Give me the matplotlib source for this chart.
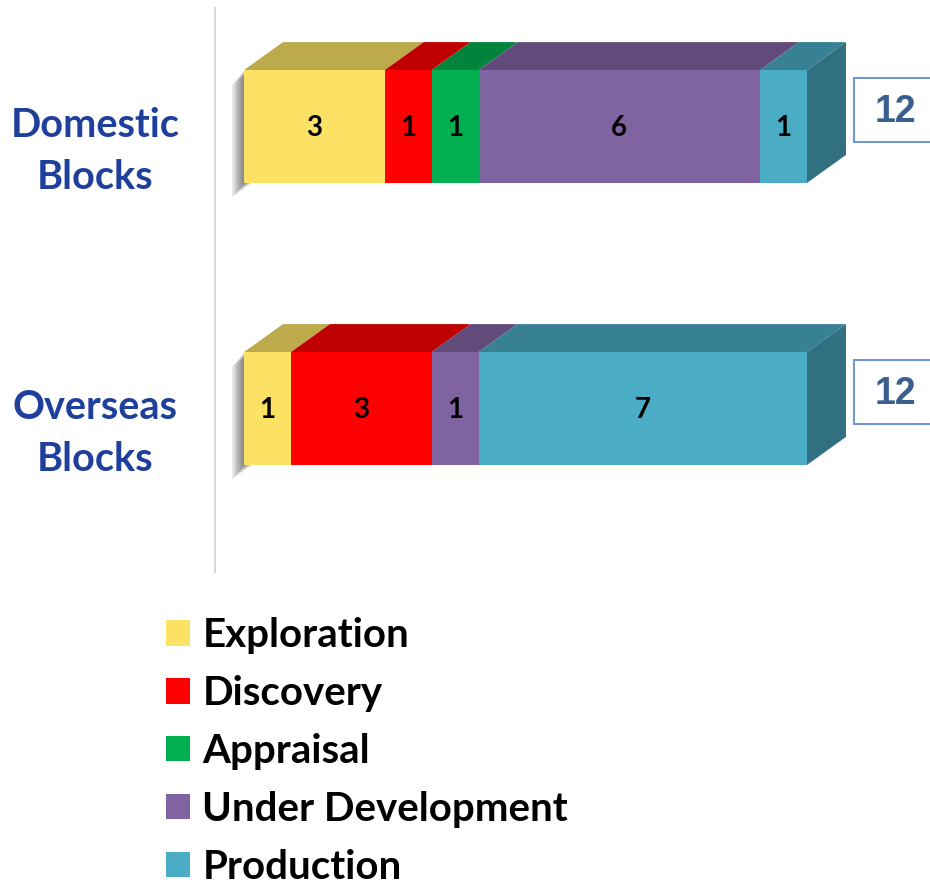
import matplotlib.pyplot as plt
from matplotlib.patches import Polygon, Rectangle, Patch
from matplotlib.lines import Line2D
from matplotlib.transforms import blended_transform_factory
import numpy as np

# data
categories = ['Domestic\nBlocks', 'Overseas\nBlocks']
series = ['Exploration', 'Discovery', 'Appraisal', 'Under Development', 'Production']
exploration = [3, 1]
discovery = [1, 3]
appraisal = [1, 0]
under_dev = [6, 1]
production = [1, 7]
values = [exploration, discovery, appraisal, under_dev, production]
colors = ['#FCE264', '#FF0000', '#00B050', '#8064A2', '#4BACC6']

W, H = 930, 885
fig = plt.figure(figsize=(W / 100, H / 100), dpi=100)

def fx(px):
    return px / W

def fy(py):
    return 1 - py / H

# axes: x 0..12 -> 244..807 px, category centres at 126.5 and 408.5 px
ax = fig.add_axes([fx(244), fy(600), 563 / W, 600 / H])
ax.set_xlim(0, 12)
ax.set_ylim((600 - 126.5) / 282, -126.5 / 282)
ax.axis('off')

ux = 12 / 563   # data units per pixel in x
uy = 1 / 282    # data units per pixel in y
dx, dy = 39 * ux, 28 * uy
hgt = 0.4

def shade(c, f):
    r, g, b = [int(c[i:i + 2], 16) / 255 for i in (1, 3, 5)]
    return (r * f, g * f, b * f)

for i, cat in enumerate(categories):
    top, bot = i - hgt / 2, i + hgt / 2
    # soft shadow at the left end
    for s in range(2, 14, 2):
        sx, sy = -s * ux, s * 1.2 * uy
        ax.add_patch(Polygon([(sx, top + sy), (dx + sx, top - dy + sy),
                              (dx + sx, bot - dy + sy), (sx, bot + sy)],
                             closed=True, fc='#000000', ec='none', alpha=0.09,
                             zorder=1, clip_on=False))
    left = 0
    last = None
    for j, name in enumerate(series):
        v = values[j][i]
        if v == 0:
            continue
        ax.barh(i, v, left=left, height=hgt, color=colors[j], edgecolor='none', zorder=3)
        ax.add_patch(Polygon([(left, top), (left + v, top), (left + v + dx, top - dy),
                              (left + dx, top - dy)], closed=True,
                             fc=shade(colors[j], 0.75), ec='none', zorder=2, clip_on=False))
        ax.text(left + v / 2, i + 0.005, str(v), ha='center', va='center',
                fontsize=20, fontweight='bold', family='Lato', color='black', zorder=5)
        left += v
        last = j
    ax.add_patch(Polygon([(left, top), (left + dx, top - dy), (left + dx, bot - dy),
                          (left, bot)], closed=True, fc=shade(colors[last], 0.65),
                         ec='none', zorder=4, clip_on=False))
    # total box
    total = sum(values[j][i] for j in range(len(series)))
    bx = left + dx + 8 * ux
    by = i - 0.058
    ax.add_patch(Rectangle((bx, by - 32 * uy), 100 * ux, 64 * uy, fc='white',
                           ec='#6F9AD3', lw=1.5, zorder=4, clip_on=False))
    ax.text(bx + 41 * ux, by + 0.008, str(total), ha='center', va='center',
            fontsize=27, fontweight='bold', family='Liberation Sans', color='#3A5F8E',
            zorder=5, clip_on=False)
    # category label
    tr = blended_transform_factory(fig.transFigure, ax.transData)
    ax.text(fx(95), i + 0.09, cat, transform=tr, ha='center', va='center',
            fontsize=28.5, fontweight='bold', family='Lato', color='#1F3F9C',
            linespacing=1.5)

fig.add_artist(Line2D([fx(215), fx(215)], [fy(8), fy(572)], color='#D9D9D9', lw=1.5))

handles = [Patch(fc=c, ec='none') for c in colors]
fig.legend(handles, series, loc='upper left', bbox_to_anchor=(fx(166), fy(617)),
           frameon=False, prop={'family': 'Lato', 'weight': 'bold', 'size': 29},
           handlelength=0.6, handleheight=0.6, handletextpad=0.3,
           labelspacing=0.52, borderpad=0, borderaxespad=0)

fig.savefig('out.png', dpi=100)
